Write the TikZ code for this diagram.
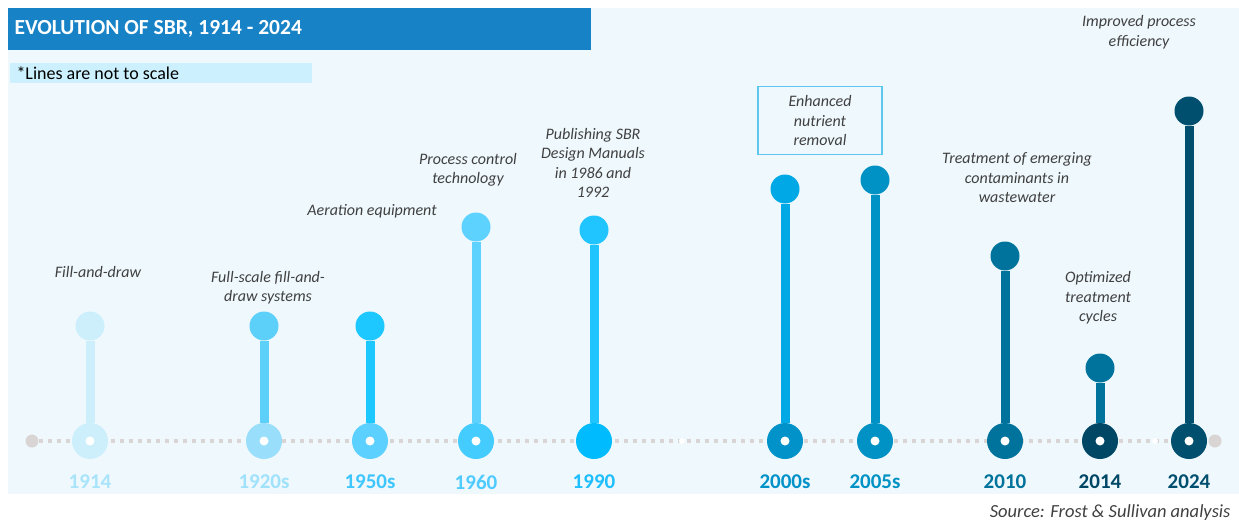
\documentclass[tikz,border=0pt]{standalone}
\usepackage{fontspec}
\setmainfont{Carlito}
\usetikzlibrary{positioning}
\definecolor{bgpale}{HTML}{EEF8FD}
\definecolor{titleblue}{HTML}{1782C5}
\definecolor{notecyan}{HTML}{CCF0FD}
\definecolor{boxline}{HTML}{5CC8F2}
\definecolor{captext}{HTML}{404040}
\definecolor{dotgray}{HTML}{D9D5D5}
\tikzset{
  topdot/.style={circle, inner sep=0pt, minimum size=29pt},
  basedot/.style={circle, inner sep=0pt, minimum size=36pt},
  hole/.style={circle, fill=white, inner sep=0pt, minimum size=9pt},
  stem/.style={line width=9pt},
  year/.style={font=\fontsize{21}{23}\selectfont\bfseries},
  caption/.style={align=center, text=captext, font=\fontsize{16}{19.5}\selectfont\itshape},
}
% name, x, top y, top colour, base colour, year colour, year
\newcommand{\Milestone}[7]{%
  \definecolor{top#1}{HTML}{#4}%
  \definecolor{base#1}{HTML}{#5}%
  \definecolor{year#1}{HTML}{#6}%
  \node[basedot, fill=base#1] (b#1) at (#2,441) {};
  \node[topdot, fill=top#1] (t#1) at (#2,#3) {};
  \draw[stem, top#1] (b#1) -- (t#1);
  \node[year, text=year#1] (y#1) at (#2,482) {#7};
}
\begin{document}
\begin{tikzpicture}[x=1pt,y=-1pt]
  \useasboundingbox (0,0) rectangle (1239,522);
  \fill[bgpale] (8,8) rectangle (1239,494);
  % header
  \fill[titleblue] (8,8) rectangle (591,50);
  \node[anchor=west, text=white, font=\fontsize{21.5}{23}\selectfont\bfseries] (title) at (11,29) {EVOLUTION OF SBR, 1914 - 2024};
  \fill[notecyan] (10,63) rectangle (312,83);
  \node[anchor=west, font=\fontsize{18}{20}\selectfont] (note) at (13,73) {*Lines are not to scale};
  % baseline
  \node[circle, fill=dotgray, inner sep=0pt, minimum size=13pt] (lineL) at (32,441) {};
  \node[circle, fill=dotgray, inner sep=0pt, minimum size=13pt] (lineR) at (1215,441) {};
  \draw[dotgray, line width=4.5pt, dash pattern=on 4.5pt off 4.5pt] (lineL) -- (lineR);
  \node[circle, fill=white, inner sep=0pt, minimum size=6pt] (gapA) at (682,441) {};
  \node[circle, fill=white, inner sep=0pt, minimum size=6pt] (gapB) at (1155,441) {};
  % milestones
  \Milestone{1914}{90}{326}{CDEFFC}{CDEFFC}{A9E4FB}{1914}
  \Milestone{1920}{264}{326}{5DD0FA}{99DFFC}{A0E1FB}{1920s}
  \Milestone{1950}{370}{326}{1DC7FF}{5CD0FF}{3FC6FF}{1950s}
  \Milestone{1960}{476}{227}{5ED2FF}{45CCFF}{4FCBFF}{1960}
  \Milestone{1990}{594}{230}{20C4FF}{00BCFF}{1EBEFF}{1990}
  \Milestone{2000}{785}{189}{00A9E6}{0092C8}{0092C8}{2000s}
  \Milestone{2005}{875}{180}{0092C4}{0092C4}{0092C4}{2005s}
  \Milestone{2010}{1005}{256}{00739C}{00739C}{00739C}{2010}
  \Milestone{2014}{1100}{368}{00739C}{004766}{004766}{2014}
  \Milestone{2024}{1189}{111}{004F6E}{004F6E}{004F6E}{2024}
  \foreach \n in {1914,1920,1950,1960,2000,2005,2010,2014,2024}
    \node[hole] at (b\n) {};
  % captions
  \node[caption] (c1914) at (98,272) {Fill-and-draw};
  \node[caption] (c1920) at (268,287.5) {Full-scale fill-and-\\draw systems};
  \node[caption] (c1950) at (372,211) {Aeration equipment};
  \node[caption] (c1960) at (468,170) {Process control\\technology};
  \node[caption] (c1990) at (593,163) {Publishing SBR\\Design Manuals\\in 1986 and\\1992};
  \node[caption, draw=boxline, line width=1.5pt, minimum width=124pt, minimum height=68pt] (c2000) at (820,120.5) {Enhanced\\nutrient\\removal};
  \node[caption] (c2010) at (1017,178) {Treatment of emerging\\contaminants in\\wastewater};
  \node[caption] (c2014) at (1098,298) {Optimized\\treatment\\cycles};
  \node[caption] (c2024) at (1139,32) {Improved process\\efficiency};
  \node[anchor=east, text=captext, font=\fontsize{18.5}{20}\selectfont\itshape] (source) at (1234,513) {Source: Frost \& Sullivan analysis};
\end{tikzpicture}
\end{document}
